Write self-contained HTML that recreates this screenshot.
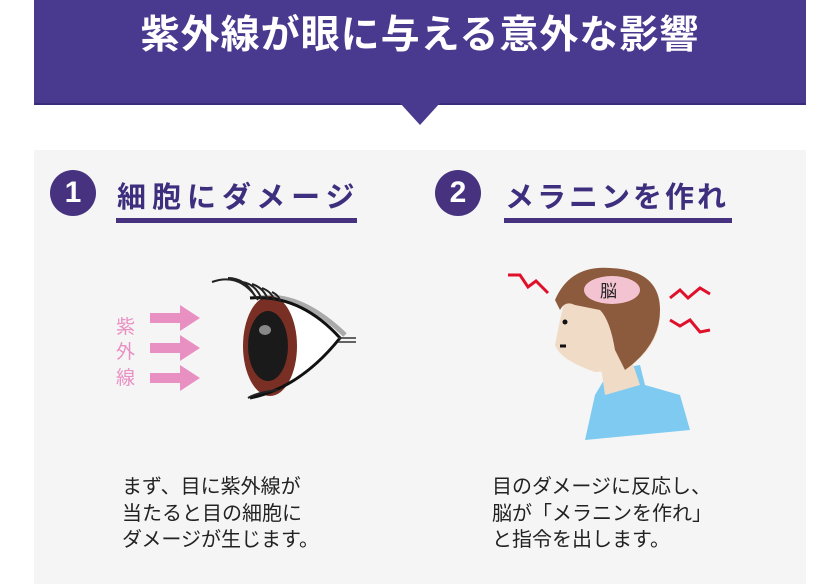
<!DOCTYPE html>
<html><head><meta charset="utf-8"><style>
body{margin:0;width:840px;height:584px;background:#fff;position:relative;overflow:hidden;font-family:"Liberation Sans","Noto Sans CJK JP",sans-serif}
.ban{position:absolute;left:34px;top:0;width:772px;height:103px;background:#4a3a8f;border-bottom:2px solid #3a2c7a}
.ban h1{margin:0;position:absolute;top:4px;left:0;width:100%;text-align:center;color:#fff;font-size:39px;font-weight:bold;letter-spacing:1px}
.tri{position:absolute;left:400px;top:103px;width:0;height:0;border-left:20px solid transparent;border-right:20px solid transparent;border-top:22px solid #4a3a8f}
.panel{position:absolute;left:34px;top:150px;width:772px;height:434px;background:#f5f5f5}
.num{position:absolute;width:46px;height:46px;border-radius:50%;background:#46327f;color:#fff;font-size:30px;font-weight:bold;text-align:center;line-height:46px}
.tt{position:absolute;color:#3e2f7e;font-size:29px;font-weight:bold;letter-spacing:6px}
.ul{position:absolute;height:5px;background:#46327f}
.txt{position:absolute;font-size:20px;line-height:26.5px;color:#222}
</style></head><body>
<div class="ban"><h1>紫外線が眼に与える意外な影響</h1></div>
<div class="tri"></div>
<div class="panel"></div>
<div class="num" style="left:50px;top:170px">1</div>
<div class="tt" style="left:117px;top:174px">細胞にダメージ</div>
<div class="ul" style="left:116px;top:218px;width:241px"></div>
<div class="num" style="left:435px;top:170px">2</div>
<div class="tt" style="left:505px;top:174px;letter-spacing:3px">メラニンを作れ</div>
<div class="ul" style="left:504px;top:218px;width:228px"></div>
<svg style="position:absolute;left:0;top:0" width="840" height="584">
<g fill="#e990c3"><path d="M150 313h30v-8l20 13-20 13v-8h-30z"/><path d="M150 343h30v-8l20 13-20 13v-8h-30z"/><path d="M150 373h30v-8l20 13-20 13v-8h-30z"/></g>
<text x="116" y="333" font-size="19" fill="#e990c3" font-family="Noto Sans CJK JP">紫</text>
<text x="116" y="358" font-size="19" fill="#e990c3" font-family="Noto Sans CJK JP">外</text>
<text x="116" y="384" font-size="19" fill="#e990c3" font-family="Noto Sans CJK JP">線</text>
<path d="M255 300 Q305 296 340 338 Q305 385 255 395Z" fill="#fff"/>
<path d="M260 298 Q300 292 345 335" fill="none" stroke="#aaa" stroke-width="5"/>
<ellipse cx="270" cy="346" rx="27" ry="50" fill="#7a2f25"/>
<ellipse cx="268" cy="346" rx="20" ry="35" fill="#1a1a1a"/>
<ellipse cx="265" cy="330" rx="6" ry="5" fill="#888"/>
<path d="M250 298 Q300 294 340 338 Q300 388 250 398" fill="none" stroke="#111" stroke-width="3"/>
<path d="M212 282 Q240 272 258 300 M228 278 q18 0 28 20 M242 282 q14 2 20 18 M252 284 q12 4 16 16 M262 288 q10 4 12 12 M272 292 q8 4 8 10" fill="none" stroke="#222" stroke-width="2"/>
<path d="M248 398 q10-6 30-8" fill="none" stroke="#222" stroke-width="2"/>
<path d="M338 338h18M338 342h18" stroke="#333" stroke-width="1.5"/>
<path d="M610 370 L640 365 L645 385 L680 395 L690 430 L585 440 L595 395Z" fill="#7ecaf0"/>
<path d="M600 360 L630 355 L640 385 L605 395Z" fill="#f0dcc6"/>
<path d="M565 300 Q575 275 610 272 Q655 272 660 310 Q662 345 625 370 L595 372 Q560 360 555 345 L560 320Z" fill="#f0dcc6"/>
<path d="M555 300 Q570 265 610 268 Q660 270 660 310 Q660 345 625 370 L615 350 Q610 320 600 310 L575 305 Q565 300 560 310Z" fill="#8c5a3c"/>
<ellipse cx="612" cy="290" rx="28" ry="14" fill="#f3c3d2"/>
<text x="600" y="297" font-size="17" fill="#222" font-family="Noto Sans CJK JP">脳</text>
<circle cx="565" cy="322" r="2.5" fill="#111"/>
<path d="M560 346h6" stroke="#111" stroke-width="3"/>
<g fill="none" stroke="#e0102a" stroke-width="3"><path d="M508 275h12l8 12 8-6 12 12"/><path d="M670 298l10-8 8 8 12-10 10 6"/><path d="M670 320l10 6 10-6 10 12 10-2"/></g>
</svg>
<div class="txt" style="left:122px;top:474px">まず、目に紫外線が<br>当たると目の細胞に<br>ダメージが生じます。</div>
<div class="txt" style="left:492px;top:474px">目のダメージに反応し、<br>脳が「メラニンを作れ」<br>と指令を出します。</div>
</body></html>
